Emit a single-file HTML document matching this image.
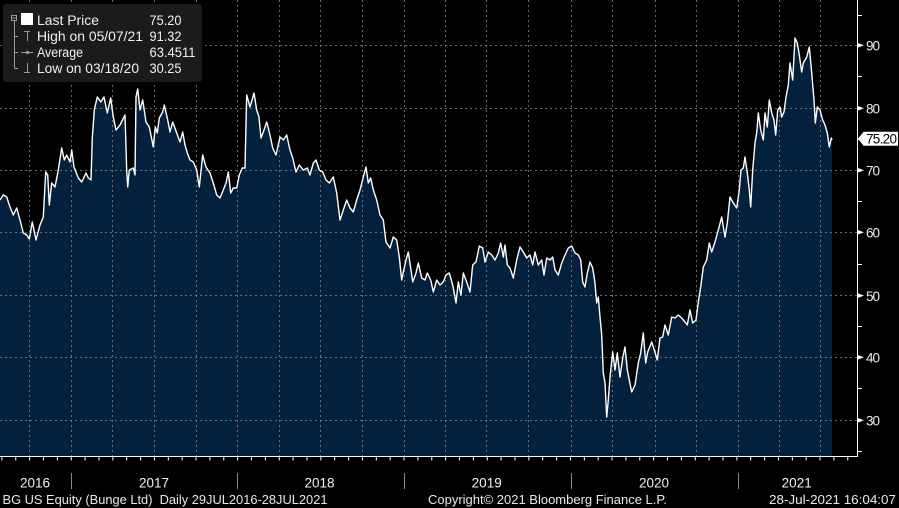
<!DOCTYPE html>
<html>
<head>
<meta charset="utf-8">
<style>
  html, body { margin:0; padding:0; background:#000; }
  body { width:899px; height:508px; overflow:hidden; }
  svg { display:block; }
  text { font-family: "Liberation Sans", "DejaVu Sans", sans-serif; }
</style>
</head>
<body>
<svg width="899" height="508" viewBox="0 0 899 508" xmlns="http://www.w3.org/2000/svg">
  <rect x="0" y="0" width="899" height="508" fill="#000"/>

  <!-- area fill -->
  <path fill="#03203d" d="M0,456 L0,200 3.3,195 6.7,197 10,207 13.3,215 16.7,208 20,220 23.3,233 26.7,235 29.3,239 32.3,222 36,240 40,225 43.3,217 45.7,172 47.7,175 49.3,205 51.7,183 55,187 58.3,170 61.7,148 64.3,160 66.7,155 70,162 71.7,150 74,167 78.3,178 81.7,182 86,173 88.3,178 91,180 92.3,138 94.3,110 97.3,97 100.7,102 104,97 107.3,113 110.7,98 113.3,117 116,130 120,125 125,115 126.7,170 127.7,187 129.3,170 133.3,168 135,175 136,97 137.7,89 140,110 142.7,100 146,122 149.3,127 153.3,147 155.3,127 157.3,133 159.3,118 162.7,112 164.3,105 167.3,118 170,132 172.7,122 176.7,133 180,142 182.7,132 185,145 187.3,153 190,160 193.3,162 196.7,170 199.3,187 202.7,155 206,167 210,173 213.3,183 216.7,195 220,198 223.3,190 226,183 228.3,172 230.7,193 233.3,188 236.7,188 239.3,175 242.3,168 245,168 246.7,95 250,107 254,93 256.7,110 259,117 261,138 263.3,132 266.7,122 270,135 272.7,148 276,155 280,137 283.3,140 286.7,135 290,150 292.7,158 296,172 299.3,165 303.3,170 307.3,168 310,175 313.3,163 316,160 319.3,170 322.7,172 326,180 329.3,183 333.3,177 336.7,193 340,220 343.3,210 346.7,200 350,208 353.3,212 356.7,200 360,190 363.3,177 366,167 368.3,183 370.7,178 373.3,190 376.7,200 380,215 383.3,220 386,242 390,248 393.3,237 396.7,240 399.3,257 401.7,280 403.3,272 406,260 408.3,252 410.7,268 412.7,282 416,273 418.3,263 421.7,278 425,280 427.3,273 430.7,280 433.3,292 436.7,280 440,285 443.3,282 446,275 449.3,273 452.7,285 456,303 458.3,282 461,295 463.3,273 466.7,282 470,292 472.7,265 476,262 479.3,246 482.7,248 485,262 488.3,252 491.7,255 495,260 498.3,253 500.7,243 503.3,257 505,245 507.3,265 510,268 513.3,278 516.7,260 520,247 523.3,252 526.7,258 530,255 532.7,265 535,252 538.3,265 541.7,260 544,275 546.7,258 550,260 552.7,257 555,270 558.3,275 561.7,263 565,255 568.3,248 571.7,246 575,253 578.3,255 580.7,260 582.7,282 585,287 587.3,273 590,262 592.7,268 595,283 596.7,303 598.3,297 600,317 601.7,335 603.3,373 605,383 606.7,417 608.3,400 610,377 612.7,352 615,370 617.3,353 620,377 622.7,358 625,347 627.3,370 629.3,380 631.7,392 635,385 638.3,363 640.7,353 643.3,333 645.7,363 647.7,352 651.7,342 654.3,350 657.3,360 660,338 662.7,337 665,325 668.3,335 671.7,317 675,318 678.3,315 681.7,318 685,322 687.3,325 690,310 692.7,323 696,320 698.3,302 700.7,287 703.3,267 706.7,260 709.3,243 711.7,252 715,242 718.3,230 721.7,217 725,237 727.3,223 730,197 733.3,203 736.7,208 739.3,190 741,170 743.3,168 745,157 747.3,173 749.3,190 750.7,207 752.7,170 755,143 756.7,133 758.3,113 760.7,130 763.3,140 765,113 767.3,127 769.3,100 771.7,113 774,120 775.7,135 777.7,110 780,107 781.7,117 784,112 786,97 788.3,85 790,63 792.7,80 795,38 797.3,43 799.3,55 801.7,72 803.3,63 806.7,57 809.3,47 811.7,73 814,100 815.3,123 817.3,107 820,110 822.7,120 825,125 827.3,133 829.3,147 831.3,138 832,140 L832,456 Z"/>

  <!-- grid -->
  <g stroke="#8c8c8c" stroke-opacity="0.75" stroke-width="1" stroke-dasharray="2 3" fill="none">
    <line x1="0" y1="45.5" x2="857" y2="45.5"/>
    <line x1="0" y1="108.5" x2="857" y2="108.5"/>
    <line x1="0" y1="170.5" x2="857" y2="170.5"/>
    <line x1="0" y1="232.5" x2="857" y2="232.5"/>
    <line x1="0" y1="295.5" x2="857" y2="295.5"/>
    <line x1="0" y1="357.5" x2="857" y2="357.5"/>
    <line x1="0" y1="420.5" x2="857" y2="420.5"/>
    <line x1="29.5" y1="0" x2="29.5" y2="456"/>
    <line x1="71.5" y1="0" x2="71.5" y2="456"/>
    <line x1="112.5" y1="0" x2="112.5" y2="456"/>
    <line x1="154.5" y1="0" x2="154.5" y2="456"/>
    <line x1="196.5" y1="0" x2="196.5" y2="456"/>
    <line x1="237.5" y1="0" x2="237.5" y2="456"/>
    <line x1="279.5" y1="0" x2="279.5" y2="456"/>
    <line x1="320.5" y1="0" x2="320.5" y2="456"/>
    <line x1="362.5" y1="0" x2="362.5" y2="456"/>
    <line x1="404.5" y1="0" x2="404.5" y2="456"/>
    <line x1="445.5" y1="0" x2="445.5" y2="456"/>
    <line x1="486.5" y1="0" x2="486.5" y2="456"/>
    <line x1="528.5" y1="0" x2="528.5" y2="456"/>
    <line x1="571.5" y1="0" x2="571.5" y2="456"/>
    <line x1="612.5" y1="0" x2="612.5" y2="456"/>
    <line x1="655.5" y1="0" x2="655.5" y2="456"/>
    <line x1="696.5" y1="0" x2="696.5" y2="456"/>
    <line x1="738.5" y1="0" x2="738.5" y2="456"/>
    <line x1="779.5" y1="0" x2="779.5" y2="456"/>
    <line x1="820.5" y1="0" x2="820.5" y2="456"/>
  </g>

  <!-- price line -->
  <polyline fill="none" stroke="#ffffff" stroke-width="1.4" stroke-linejoin="round" points="0,200 3.3,195 6.7,197 10,207 13.3,215 16.7,208 20,220 23.3,233 26.7,235 29.3,239 32.3,222 36,240 40,225 43.3,217 45.7,172 47.7,175 49.3,205 51.7,183 55,187 58.3,170 61.7,148 64.3,160 66.7,155 70,162 71.7,150 74,167 78.3,178 81.7,182 86,173 88.3,178 91,180 92.3,138 94.3,110 97.3,97 100.7,102 104,97 107.3,113 110.7,98 113.3,117 116,130 120,125 125,115 126.7,170 127.7,187 129.3,170 133.3,168 135,175 136,97 137.7,89 140,110 142.7,100 146,122 149.3,127 153.3,147 155.3,127 157.3,133 159.3,118 162.7,112 164.3,105 167.3,118 170,132 172.7,122 176.7,133 180,142 182.7,132 185,145 187.3,153 190,160 193.3,162 196.7,170 199.3,187 202.7,155 206,167 210,173 213.3,183 216.7,195 220,198 223.3,190 226,183 228.3,172 230.7,193 233.3,188 236.7,188 239.3,175 242.3,168 245,168 246.7,95 250,107 254,93 256.7,110 259,117 261,138 263.3,132 266.7,122 270,135 272.7,148 276,155 280,137 283.3,140 286.7,135 290,150 292.7,158 296,172 299.3,165 303.3,170 307.3,168 310,175 313.3,163 316,160 319.3,170 322.7,172 326,180 329.3,183 333.3,177 336.7,193 340,220 343.3,210 346.7,200 350,208 353.3,212 356.7,200 360,190 363.3,177 366,167 368.3,183 370.7,178 373.3,190 376.7,200 380,215 383.3,220 386,242 390,248 393.3,237 396.7,240 399.3,257 401.7,280 403.3,272 406,260 408.3,252 410.7,268 412.7,282 416,273 418.3,263 421.7,278 425,280 427.3,273 430.7,280 433.3,292 436.7,280 440,285 443.3,282 446,275 449.3,273 452.7,285 456,303 458.3,282 461,295 463.3,273 466.7,282 470,292 472.7,265 476,262 479.3,246 482.7,248 485,262 488.3,252 491.7,255 495,260 498.3,253 500.7,243 503.3,257 505,245 507.3,265 510,268 513.3,278 516.7,260 520,247 523.3,252 526.7,258 530,255 532.7,265 535,252 538.3,265 541.7,260 544,275 546.7,258 550,260 552.7,257 555,270 558.3,275 561.7,263 565,255 568.3,248 571.7,246 575,253 578.3,255 580.7,260 582.7,282 585,287 587.3,273 590,262 592.7,268 595,283 596.7,303 598.3,297 600,317 601.7,335 603.3,373 605,383 606.7,417 608.3,400 610,377 612.7,352 615,370 617.3,353 620,377 622.7,358 625,347 627.3,370 629.3,380 631.7,392 635,385 638.3,363 640.7,353 643.3,333 645.7,363 647.7,352 651.7,342 654.3,350 657.3,360 660,338 662.7,337 665,325 668.3,335 671.7,317 675,318 678.3,315 681.7,318 685,322 687.3,325 690,310 692.7,323 696,320 698.3,302 700.7,287 703.3,267 706.7,260 709.3,243 711.7,252 715,242 718.3,230 721.7,217 725,237 727.3,223 730,197 733.3,203 736.7,208 739.3,190 741,170 743.3,168 745,157 747.3,173 749.3,190 750.7,207 752.7,170 755,143 756.7,133 758.3,113 760.7,130 763.3,140 765,113 767.3,127 769.3,100 771.7,113 774,120 775.7,135 777.7,110 780,107 781.7,117 784,112 786,97 788.3,85 790,63 792.7,80 795,38 797.3,43 799.3,55 801.7,72 803.3,63 806.7,57 809.3,47 811.7,73 814,100 815.3,123 817.3,107 820,110 822.7,120 825,125 827.3,133 829.3,147 831.3,138 832,140"/>

  <!-- axes -->
  <line x1="857.5" y1="0" x2="857.5" y2="456.5" stroke="#fff" stroke-width="1"/>
  <line x1="0" y1="456.5" x2="858" y2="456.5" stroke="#fff" stroke-width="1"/>
  <line x1="857" y1="451.5" x2="862" y2="451.5" stroke="#fff" stroke-width="1"/>
  <!-- month ticks -->
  <line x1="1" y1="458.5" x2="852" y2="458.5" stroke="#fff" stroke-width="4" stroke-dasharray="1 12.867" stroke-dashoffset="-0.4"/>

  <!-- minor y ticks -->
  <g stroke="#fff" stroke-width="1">
    <line x1="857" y1="15.5" x2="862" y2="15.5"/>
    <line x1="857" y1="76.5" x2="862" y2="76.5"/>
    <line x1="857" y1="139.5" x2="862" y2="139.5"/>
    <line x1="857" y1="201.5" x2="862" y2="201.5"/>
    <line x1="857" y1="264.5" x2="862" y2="264.5"/>
    <line x1="857" y1="326.5" x2="862" y2="326.5"/>
    <line x1="857" y1="388.5" x2="862" y2="388.5"/>
  </g>
  <!-- major tick triangles -->
  <g fill="#fff">
    <polygon points="857,42.7 864,45.3 857,47.9"/>
    <polygon points="857,105.7 864,108.3 857,110.9"/>
    <polygon points="857,167.7 864,170.3 857,172.9"/>
    <polygon points="857,229.7 864,232.3 857,234.9"/>
    <polygon points="857,293 864,295.6 857,298.2"/>
    <polygon points="857,354.7 864,357.3 857,359.9"/>
    <polygon points="857,417.7 864,420.3 857,422.9"/>
  </g>
  <g fill="#e6edf5" font-size="13.5">
    <text x="866" y="50.5" textLength="14">90</text>
    <text x="866" y="113.5" textLength="14">80</text>
    <text x="866" y="175.5" textLength="14">70</text>
    <text x="866" y="237.5" textLength="14">60</text>
    <text x="866" y="300.8" textLength="14">50</text>
    <text x="866" y="362.5" textLength="14">40</text>
    <text x="866" y="425.5" textLength="14">30</text>
  </g>

  <!-- last price label -->
  <polygon points="858,138.7 863.5,131.7 898,131.7 898,145.7 863.5,145.7" fill="#fff"/>
  <text x="866" y="143.5" font-size="13.5" fill="#000" textLength="31">75.20</text>

  <!-- year separators and labels -->
  <g stroke="#8a8a8a" stroke-width="1">
    <line x1="71.5" y1="473" x2="71.5" y2="489"/>
    <line x1="237.5" y1="473" x2="237.5" y2="489"/>
    <line x1="404.5" y1="473" x2="404.5" y2="489"/>
    <line x1="571.5" y1="473" x2="571.5" y2="489"/>
    <line x1="738.5" y1="473" x2="738.5" y2="489"/>
  </g>
  <g fill="#f2f2f2" font-size="13.5" text-anchor="middle">
    <text x="35" y="487.3">2016</text>
    <text x="154" y="487.3">2017</text>
    <text x="319.5" y="487.3">2018</text>
    <text x="486.7" y="487.3">2019</text>
    <text x="654" y="487.3">2020</text>
    <text x="796.7" y="487.3">2021</text>
  </g>

  <!-- footer -->
  <g fill="#e8e8e8" font-size="12.5">
    <text x="2.5" y="504" textLength="325" lengthAdjust="spacingAndGlyphs" xml:space="preserve">BG US Equity (Bunge Ltd)  Daily 29JUL2016-28JUL2021</text>
    <text x="428" y="504" textLength="239" lengthAdjust="spacingAndGlyphs">Copyright© 2021 Bloomberg Finance L.P.</text>
    <text x="769" y="504" textLength="127" lengthAdjust="spacingAndGlyphs">28-Jul-2021 16:04:07</text>
  </g>

  <!-- legend -->
  <rect x="3" y="4" width="199" height="78" rx="3" fill="#1b1b1b"/>
  <g stroke="#9a9a9a" stroke-width="1" fill="none">
    <rect x="11.5" y="15.5" width="5" height="5"/>
    <line x1="12" y1="18" x2="16" y2="18"/>
    <line x1="14.5" y1="21" x2="14.5" y2="68.5"/>
    <line x1="14.5" y1="36.5" x2="18" y2="36.5"/>
    <line x1="14.5" y1="52.5" x2="18" y2="52.5"/>
    <line x1="14.5" y1="68.5" x2="18" y2="68.5"/>
    <!-- high icon -->
    <line x1="24" y1="31.5" x2="30" y2="31.5"/>
    <line x1="27.5" y1="31.5" x2="27.5" y2="41"/>
    <!-- average icon -->
    <line x1="21" y1="52.5" x2="33" y2="52.5"/>
    <!-- low icon -->
    <line x1="27.5" y1="63" x2="27.5" y2="72.5"/>
    <line x1="24" y1="72.5" x2="30" y2="72.5"/>
  </g>
  <circle cx="27.5" cy="52.5" r="1.6" fill="#9a9a9a"/>
  <rect x="21" y="13" width="12" height="12" fill="#fff"/>
  <g fill="#f0f0f0" font-size="13.5">
    <text x="37" y="25" textLength="62" lengthAdjust="spacingAndGlyphs">Last Price</text>
    <text x="37" y="41" textLength="106" lengthAdjust="spacingAndGlyphs">High on 05/07/21</text>
    <text x="37" y="57" textLength="46" lengthAdjust="spacingAndGlyphs">Average</text>
    <text x="37" y="73" textLength="102" lengthAdjust="spacingAndGlyphs">Low on 03/18/20</text>
    <text x="149.5" y="25" textLength="32" lengthAdjust="spacingAndGlyphs">75.20</text>
    <text x="149.5" y="41" textLength="32" lengthAdjust="spacingAndGlyphs">91.32</text>
    <text x="149.5" y="57" textLength="46" lengthAdjust="spacingAndGlyphs">63.4511</text>
    <text x="149.5" y="73" textLength="32" lengthAdjust="spacingAndGlyphs">30.25</text>
  </g>
</svg>
</body>
</html>
